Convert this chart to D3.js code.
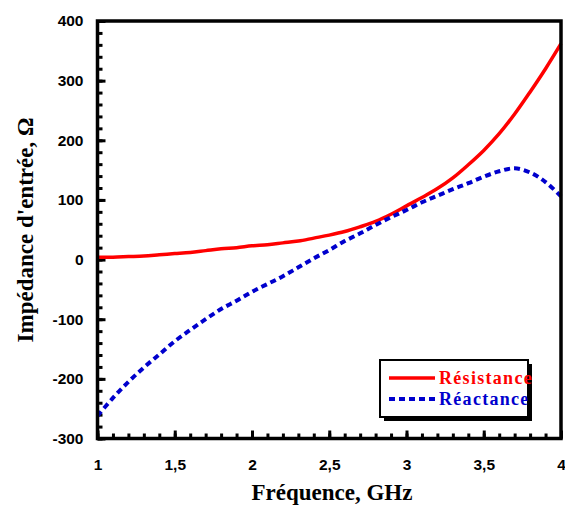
<!DOCTYPE html>
<html>
<head>
<meta charset="utf-8">
<script src="https://cdn.jsdelivr.net/npm/d3@7"></script>
<style>
  body { margin: 0; background: #fff; }
  .tick text { font-family: "Liberation Sans", Arial, sans-serif; font-weight: bold; font-size: 15.5px; }
</style>
</head>
<body>
<svg id="chart" width="565" height="506"></svg>
<script>
// --- data ---
const freq = [1.0, 1.1, 1.2, 1.3, 1.4, 1.5, 1.6, 1.7, 1.8, 1.9, 2.0, 2.1, 2.2, 2.3, 2.4, 2.5,
  2.6, 2.7, 2.8, 2.9, 3.0, 3.1, 3.2, 3.3, 3.4, 3.5, 3.6, 3.7, 3.8, 3.9, 4.0];
const resistance = [4, 4, 5, 6, 8, 10, 12, 15, 18, 20, 23, 25, 28, 31, 36, 41,
  47, 55, 64, 76, 90, 104, 119, 137, 159, 183, 211, 244, 281, 320, 362];
const reactance = [-262, -232, -205, -181, -159, -137, -118, -100, -83, -69, -54, -41, -28, -13, 2, 16,
  31, 44, 58, 71, 83, 96, 107, 118, 128, 139, 148, 153, 146, 130, 106];
const xTicks = [1, 1.5, 2, 2.5, 3, 3.5, 4];
const yTicks = [-300, -200, -100, 0, 100, 200, 300, 400];
const seriesNames = ['Résistance', 'Réactance'];

const svg = d3.select('#chart');
const plotLeft = 97.5, plotRight = 561, plotTop = 21, plotBottom = 438.5;

const x = d3.scaleLinear().domain([1, 4]).range([plotLeft, plotRight]);
const y = d3.scaleLinear().domain([-300, 400]).range([plotBottom, plotTop]);

const fmt = d => String(d).replace('.', ',');

// minor ticks
svg.append('g')
  .attr('transform', `translate(0,${plotBottom})`)
  .call(d3.axisBottom(x).tickValues(d3.range(1, 4.001, 0.1)).tickSize(-5).tickFormat(''))
  .call(g => g.select('.domain').remove())
  .selectAll('line').attr('stroke', '#000').attr('stroke-width', 3);
svg.append('g')
  .attr('transform', `translate(${plotLeft},0)`)
  .call(d3.axisLeft(y).tickValues(d3.range(-300, 401, 20)).tickSize(-5).tickFormat(''))
  .call(g => g.select('.domain').remove())
  .selectAll('line').attr('stroke', '#000').attr('stroke-width', 3);

// major ticks + labels
const xAxis = svg.append('g')
  .attr('transform', `translate(0,${plotBottom})`)
  .call(d3.axisBottom(x).tickValues(xTicks).tickSize(-8).tickPadding(20).tickFormat(fmt));
xAxis.select('.domain').remove();
xAxis.selectAll('line').attr('stroke', '#000').attr('stroke-width', 3);
xAxis.selectAll('text').attr('fill', '#000');

const yAxis = svg.append('g')
  .attr('transform', `translate(${plotLeft},0)`)
  .call(d3.axisLeft(y).tickValues(yTicks).tickSize(-8).tickPadding(14).tickFormat(d => d));
yAxis.select('.domain').remove();
yAxis.selectAll('line').attr('stroke', '#000').attr('stroke-width', 3);
yAxis.selectAll('text').attr('fill', '#000');

// curves
const line = vals => d3.line()
  .x((d, i) => x(freq[i]))
  .y(d => y(d))
  .curve(d3.curveCatmullRom)(vals);

svg.append('path')
  .attr('d', line(resistance))
  .attr('fill', 'none')
  .attr('stroke', '#ff0000')
  .attr('stroke-width', 3.5);

svg.append('path')
  .attr('d', line(reactance))
  .attr('fill', 'none')
  .attr('stroke', '#0000cd')
  .attr('stroke-width', 4)
  .attr('stroke-dasharray', '6,4');

// frame
svg.append('rect')
  .attr('x', plotLeft).attr('y', plotTop)
  .attr('width', plotRight - plotLeft).attr('height', plotBottom - plotTop)
  .attr('fill', 'none').attr('stroke', '#000').attr('stroke-width', 3.5);

// axis titles
svg.append('text')
  .attr('x', 332).attr('y', 500)
  .attr('text-anchor', 'middle')
  .attr('font-family', '"Liberation Serif", "Times New Roman", serif')
  .attr('font-weight', 'bold').attr('font-size', 23)
  .text('Fréquence, GHz');

svg.append('text')
  .attr('transform', 'translate(33,230) rotate(-90)')
  .attr('text-anchor', 'middle')
  .attr('font-family', '"Liberation Serif", "Times New Roman", serif')
  .attr('font-weight', 'bold').attr('font-size', 23)
  .text("Impédance d'entrée, Ω");

// legend
const legend = svg.append('g');
legend.append('rect')
  .attr('x', 384).attr('y', 364).attr('width', 148).attr('height', 57)
  .attr('fill', '#000');
legend.append('rect')
  .attr('x', 380).attr('y', 360).attr('width', 148).attr('height', 57)
  .attr('fill', '#fff').attr('stroke', '#000').attr('stroke-width', 2);

const legendColors = ['#ff0000', '#0000cd'];
seriesNames.forEach((name, i) => {
  const ly = 378 + i * 21;
  legend.append('line')
    .attr('x1', 389).attr('x2', 435).attr('y1', ly).attr('y2', ly)
    .attr('stroke', legendColors[i])
    .attr('stroke-width', i === 0 ? 3.5 : 4)
    .attr('stroke-dasharray', i === 0 ? null : '6,4');
  legend.append('text')
    .attr('x', 439).attr('y', ly + 6)
    .attr('font-family', '"Liberation Serif", "Times New Roman", serif')
    .attr('font-weight', 'bold').attr('font-size', 18)
    .attr('letter-spacing', 1.3)
    .attr('fill', legendColors[i])
    .text(name);
});
</script>
</body>
</html>
